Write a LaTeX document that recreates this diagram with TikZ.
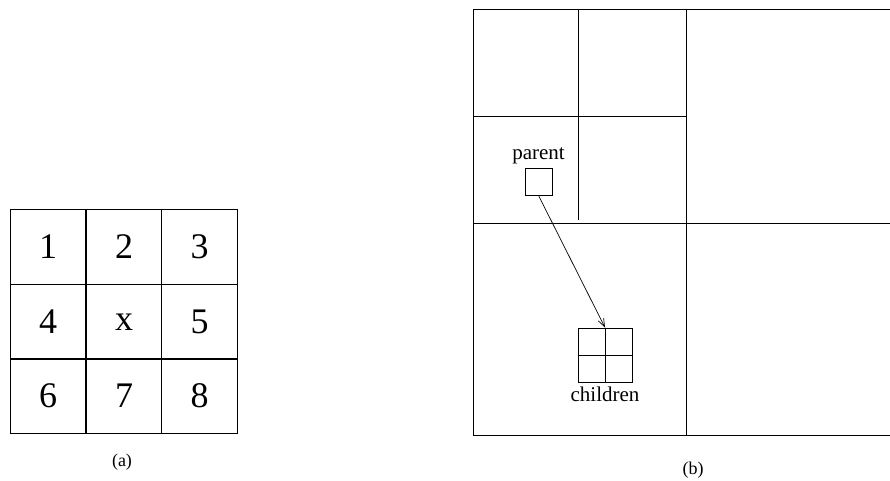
\documentclass[tikz,border=0pt]{standalone}
\usepackage{fontspec}
\setmainfont{Liberation Serif}
\usetikzlibrary{arrows.meta}
\begin{document}
\begin{tikzpicture}[x=1pt,y=-1pt,
  line width=0.9pt,
  cell/.style={draw,minimum width=75.7pt,minimum height=74.7pt,inner sep=0pt,font=\fontsize{36}{40}\selectfont},
  lbl/.style={font=\fontsize{21}{23}\selectfont,inner sep=1pt},
  captext/.style={font=\fontsize{18}{20}\selectfont},
  arr/.style={-{Straight Barb[length=8pt,width=6pt]},line width=0.7pt}]
\useasboundingbox (0,0) rectangle (890,480);
% (a)
\node[cell] (c1) at (48,247) {1};
\node[cell] (c2) at (124,247) {2};
\node[cell] (c3) at (199.5,247) {3};
\node[cell] (c4) at (48,322) {4};
\node[cell] (cx) at (124,322) {x};
\node[cell] (c5) at (199.5,322) {5};
\node[cell] (c6) at (48,396) {6};
\node[cell] (c7) at (124,396) {7};
\node[cell] (c8) at (199.5,396) {8};
\node[captext] (capa) at (122,462) {(a)};
% (b) quadtree lines
\draw (890,9) -- (473,9) -- (473,435) -- (890,435);
\draw (686,9) -- (686,435);
\draw (473,223) -- (890,223);
\draw (473,116) -- (686,116);
\draw (578,9) -- (578,220);
% parent and children
\node[draw,minimum size=27pt,inner sep=0pt] (parent) at (538.5,181.5) {};
\node[lbl,anchor=south] (ptxt) at ([yshift=2pt]parent.north) {parent};
\node[draw,minimum size=54pt,inner sep=0pt] (children) at (605,355) {};
\draw (children.north) -- (children.south);
\draw (children.west) -- (children.east);
\node[lbl,anchor=north] (ctxt) at ([yshift=-3pt]children.south) {children};
\draw[arr] (parent.south) -- (children.north);
\node[captext] (capb) at (693,470) {(b)};
\end{tikzpicture}
\end{document}
